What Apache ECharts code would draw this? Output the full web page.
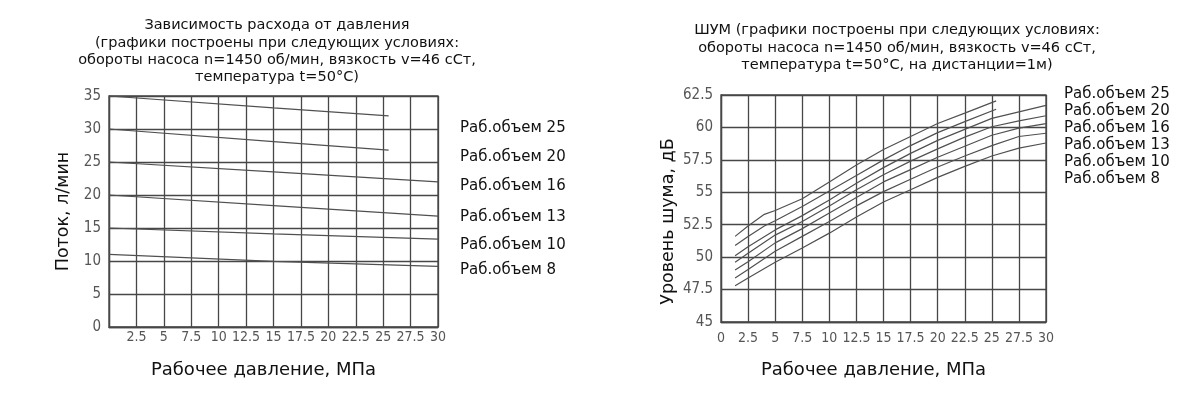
<!DOCTYPE html>
<html><head><meta charset="utf-8">
<script src="https://cdn.jsdelivr.net/npm/echarts@6/dist/echarts.min.js"></script>
<style>html,body{margin:0;padding:0;background:#fff}#c{width:1200px;height:396px}</style>
</head><body><div id="c"></div>
<script>
// ---- Data ----
const pressureTicks = [0, 2.5, 5, 7.5, 10, 12.5, 15, 17.5, 20, 22.5, 25, 27.5, 30];
const flowTicks = [0, 5, 10, 15, 20, 25, 30, 35];
const noiseTicks = [45, 47.5, 50, 52.5, 55, 57.5, 60, 62.5];

const volumeNames = ['Раб.объем 25', 'Раб.объем 20', 'Раб.объем 16', 'Раб.объем 13', 'Раб.объем 10', 'Раб.объем 8'];

// Flow vs pressure (left)
const flowXShort = [0, 15, 25.5];
const flowXLong = [0, 15, 30];
const flow25 = [35, 33.2, 32.0];
const flow20 = [30, 28.1, 26.8];
const flow16 = [25, 23.5, 22.0];
const flow13 = [20, 18.4, 16.8];
const flow10 = [15, 14.1, 13.3];
const flow8 = [11, 9.95, 9.2];

// Noise vs pressure (right)
const noiseXShort = [1.3, 2.5, 4, 5, 7.5, 10, 12.5, 15, 17.5, 20, 22.5, 25.4];
const noiseXLong = [1.3, 2.5, 5, 7.5, 10, 12.5, 15, 17.5, 20, 22.5, 25, 27.5, 30];
const noiseA = [51.6, 52.4, 53.3, 53.6, 54.5, 55.8, 57.1, 58.3, 59.3, 60.3, 61.1, 62.05];
const noiseB = [50.9, 51.6, 52.4, 52.8, 53.9, 55.1, 56.3, 57.5, 58.6, 59.6, 60.45, 61.4];
const noiseC = [50.1, 50.8, 52.1, 53.2, 54.4, 55.7, 56.9, 58.0, 59.0, 59.85, 60.7, 61.2, 61.7];
const noiseD = [49.6, 50.3, 51.7, 52.75, 53.95, 55.2, 56.35, 57.4, 58.35, 59.25, 60.05, 60.5, 60.9];
const noiseE = [49.0, 49.65, 51.1, 52.2, 53.4, 54.6, 55.8, 56.75, 57.7, 58.55, 59.4, 59.95, 60.3];
const noiseF = [48.4, 49.05, 50.45, 51.6, 52.75, 53.95, 55.05, 56.0, 56.95, 57.8, 58.6, 59.3, 59.55];
const noiseG = [47.8, 48.4, 49.6, 50.7, 51.85, 53.1, 54.25, 55.2, 56.15, 57.0, 57.8, 58.4, 58.8];

const titleLeft = 'Зависимость расхода от давления\n(графики построены при следующих условиях:\nобороты насоса n=1450 об/мин, вязкость v=46 сСт,\nтемпература t=50°C)';
const titleRight = 'ШУМ (графики построены при следующих условиях:\nобороты насоса n=1450 об/мин, вязкость v=46 сСт,\nтемпература t=50°C, на дистанции=1м)';
const xName = 'Рабочее давление, МПа';
const yNameLeft = 'Поток, л/мин';
const yNameRight = 'Уровень шума, дБ';

// ---- Build ----
const zip = (xs, ys) => xs.map((x, i) => [x, ys[i]]);
const GRID = '#474747';
const LINE = '#505050';
const TICKFONT = "'Liberation Sans Narrow', 'DejaVu Sans Condensed', 'Arial Narrow', sans-serif";
const TEXTFONT = "'DejaVu Sans', Verdana, sans-serif";

function xAxis(gridIndex, showZero, labelMargin, gap) {
  return {
    type: 'value', gridIndex, min: pressureTicks[0], max: pressureTicks[pressureTicks.length - 1], interval: 2.5,
    name: xName, nameLocation: 'middle', nameGap: gap,
    nameTextStyle: { fontFamily: TEXTFONT, fontSize: 18, color: '#111', padding: [0, 20, 0, 0] },
    axisLine: { show: true, lineStyle: { color: GRID, width: 1.3 } },
    axisTick: { show: false },
    splitLine: { show: true, lineStyle: { color: GRID, width: 1.3 } },
    axisLabel: { fontFamily: TICKFONT, fontSize: 14, color: '#555', margin: labelMargin,
      formatter: v => (!showZero && v === 0) ? '' : String(v) }
  };
}
function yAxis(gridIndex, ticks, name, gap, pad) {
  return {
    type: 'value', gridIndex, min: ticks[0], max: ticks[ticks.length - 1], interval: ticks[1] - ticks[0],
    name, nameLocation: 'middle', nameGap: gap,
    nameTextStyle: { fontFamily: TEXTFONT, fontSize: 17.5, color: '#111', padding: pad },
    axisLine: { show: true, lineStyle: { color: GRID, width: 1.3 } },
    axisTick: { show: false },
    splitLine: { show: true, lineStyle: { color: GRID, width: 1.3 } },
    axisLabel: { fontFamily: TICKFONT, fontSize: 15, color: '#555', margin: 8 }
  };
}
function line(name, xi, yi, data) {
  return { name, type: 'line', xAxisIndex: xi, yAxisIndex: yi, data, symbol: 'none', smooth: false,
    lineStyle: { color: LINE, width: 1.2 }, silent: true, animation: false };
}

const leftSeries = [
  line(volumeNames[0], 0, 0, zip(flowXShort, flow25)),
  line(volumeNames[1], 0, 0, zip(flowXShort, flow20)),
  line(volumeNames[2], 0, 0, zip(flowXLong, flow16)),
  line(volumeNames[3], 0, 0, zip(flowXLong, flow13)),
  line(volumeNames[4], 0, 0, zip(flowXLong, flow10)),
  line(volumeNames[5], 0, 0, zip(flowXLong, flow8))
];
const rightSeries = [
  line('A', 1, 1, zip(noiseXShort, noiseA)),
  line('B', 1, 1, zip(noiseXShort, noiseB)),
  line('C', 1, 1, zip(noiseXLong, noiseC)),
  line('D', 1, 1, zip(noiseXLong, noiseD)),
  line('E', 1, 1, zip(noiseXLong, noiseE)),
  line('F', 1, 1, zip(noiseXLong, noiseF)),
  line('G', 1, 1, zip(noiseXLong, noiseG))
];

const leftLabelY = [128, 157, 186, 217, 245, 270];
const rightLabelY = [94, 111, 128, 145, 162, 179];
const graphics = [];
volumeNames.forEach((t, i) => {
  graphics.push({ type: 'text', left: 460, top: leftLabelY[i] - 7, style: { text: t, font: "15px 'DejaVu Sans', Verdana, sans-serif", fill: '#111' } });
  graphics.push({ type: 'text', left: 1064, top: rightLabelY[i] - 7, style: { text: t, font: "15px 'DejaVu Sans', Verdana, sans-serif", fill: '#111' } });
});

const chart = echarts.init(document.getElementById('c'), null, { renderer: 'canvas' });
chart.setOption({
  animation: false,
  backgroundColor: '#fff',
  title: [
    { text: titleLeft, left: 272, top: 12, textAlign: 'center',
      textStyle: { fontFamily: TEXTFONT, fontSize: 14.5, fontWeight: 'normal', color: '#111', lineHeight: 17.3 } },
    { text: titleRight, left: 892, top: 17, textAlign: 'center',
      textStyle: { fontFamily: TEXTFONT, fontSize: 14.5, fontWeight: 'normal', color: '#111', lineHeight: 17.3 } }
  ],
  grid: [
    { left: 109, top: 96, width: 329, height: 231, show: true, borderColor: GRID, borderWidth: 1.3 },
    { left: 721, top: 95, width: 325, height: 227, show: true, borderColor: GRID, borderWidth: 1.3 }
  ],
  xAxis: [xAxis(0, false, 3, 34), xAxis(1, true, 9, 39)],
  yAxis: [yAxis(0, flowTicks, yNameLeft, 37, [0, 0, 0, 0]), yAxis(1, noiseTicks, yNameRight, 44, [0, 26, 0, 0])],
  series: leftSeries.concat(rightSeries),
  graphic: graphics
});
</script></body></html>
